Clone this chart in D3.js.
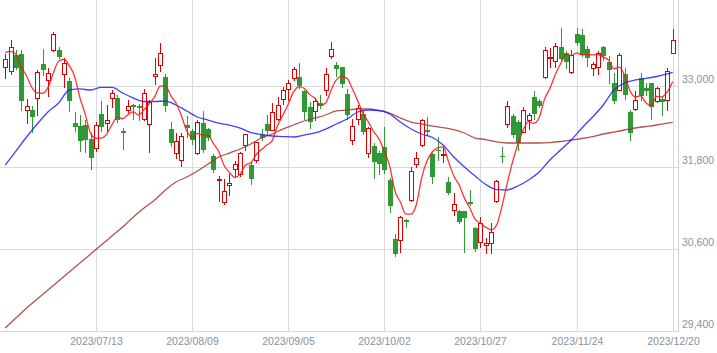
<!DOCTYPE html>
<html>
<head>
<meta charset="utf-8">
<script src="https://cdn.jsdelivr.net/npm/d3@7"></script>
<style>
  html, body { margin: 0; padding: 0; background: #fff; }
  svg { display: block; }
  text { font-family: "Liberation Sans", Arial, sans-serif; }
</style>
</head>
<body>
<svg id="chart" width="717" height="353"></svg>
<script>
// 取引日（月ごと）
const monthDays = [
  ["2023/06", [20,21,22,23,26,27,28,29,30]],
  ["2023/07", [3,4,5,6,7,10,11,12,13,14,18,19,20,21,24,25,26,27,28,31]],
  ["2023/08", [1,2,3,4,7,8,9,10,14,15,16,17,18,21,22,23,24,25,28,29,30,31]],
  ["2023/09", [1,4,5,6,7,8,11,12,13,14,15,19,20,21,22,25,26,27,28,29]],
  ["2023/10", [2,3,4,5,6,10,11,12,13,16,17,18,19,20,23,24,25,26,27,30,31]],
  ["2023/11", [1,2,6,7,8,9,10,13,14,15,16,17,20,21,22,24,27,28,29,30]],
  ["2023/12", [1,4,5,6,7,8,11,12,13,14,15,18,19,20]]
];

const open = [
  33272,33218,33444,33470,32650,32640,32813,33317,33080,33524,
  33524,33169,33070,32447,32403,32428,32221,32088,32591,32452,
  32813,32813,32339,32650,32710,32700,32517,32443,33144,33307,
  33133,32369,32007,31910,32428,32339,32013,32458,32369,31963,
  31610,31296,31540,31776,31702,32132,31840,31910,32280,32433,
  32354,32511,32799,32947,33119,33124,32921,32689,32630,32748,
  32936,33430,33311,33272,32877,32196,32511,32591,32013,32121,
  32018,32107,31610,30755,30730,31030,31320,31850,32130,32345,
  31995,32060,31990,31585,31170,31165,31160,31300,30915,30710,
  30660,30685,31310,31975,32440,32555,32470,32325,32495,32830,
  32775,33124,33406,33356,33569,33480,33199,33766,33751,33539,
  33258,33281,33563,33341,33044,32936,33173,32615,32665,33110,
  32970,33035,32773,32810,32788,33480
];
const high = [
  33465,33677,33529,33529,32803,32704,33233,33544,33258,33785,
  33563,33406,33110,32615,32566,32492,32299,32467,32773,32714,
  32936,32862,32374,32793,32733,32733,32946,32788,33406,33628,
  33169,32467,32304,32310,32551,32359,32502,32625,32384,31998,
  31677,31628,31702,31889,32022,32295,31874,32170,32369,32566,
  32739,32837,32985,33084,33281,33332,32936,32763,32813,32862,
  33258,33637,33347,33281,32951,32517,32714,32650,32393,32161,
  32037,32393,31650,30830,31085,31040,31810,32030,32510,32535,
  32005,32250,32100,31655,31425,31175,31165,31470,30920,31080,
  30760,30980,31610,32095,32775,32580,32495,32685,32600,32920,
  32805,33563,33554,33628,33853,33504,33529,33840,33825,33580,
  33350,33504,33578,33430,33184,33480,33258,32640,32926,33193,
  33035,33044,32985,32847,33258,33835
];
const low = [
  33110,33169,33247,32640,32450,32319,32576,33158,32847,33510,
  33400,32985,32630,32329,32047,32022,31776,32040,32330,32329,
  32689,32467,32073,32615,32517,32492,32502,32022,33030,33218,
  32636,32121,31944,31825,32244,32150,32003,32033,32200,31740,
  31310,31262,31395,31677,31677,32058,31554,31874,32196,32295,
  32344,32492,32729,32788,33084,32961,32517,32384,32492,32680,
  32862,33406,33144,32976,32517,32147,32443,32295,31948,31652,
  31702,31726,31145,30500,30560,30925,31305,31810,32115,32275,
  31565,31905,31880,31410,31100,30980,30560,31250,30575,30635,
  30545,30545,31295,31875,32400,32245,32055,32315,32360,32505,
  32682,33110,33281,33272,33370,33258,33184,33600,33430,33292,
  33158,33173,33380,33035,32740,32930,32800,32206,32640,32788,
  32860,32517,32760,32566,32650,33480
];
const close = [
  33389,33575,33265,32782,32699,32538,33194,33234,33189,33753,
  33423,33339,32773,32388,32190,32204,31944,32419,32391,32494,
  32896,32491,32304,32701,32683,32668,32891,32759,33172,33477,
  32708,32159,32193,32255,32377,32204,32474,32060,32239,31767,
  31626,31451,31566,31857,32010,32287,31624,32170,32227,32333,
  32619,32711,32939,33037,33241,32991,32607,32468,32776,32707,
  33168,33533,33243,33024,32571,32402,32679,32315,32372,31873,
  31858,31760,31238,30527,31075,30995,31747,31937,32495,32316,
  31659,32040,31998,31431,31259,31000,31062,31270,30602,30992,
  30697,30859,31602,31950,32708,32272,32166,32646,32568,32585,
  32696,33520,33424,33585,33388,33354,33452,33626,33448,33408,
  33321,33487,33432,33231,32776,33446,32858,32308,32792,32844,
  32926,32686,32971,32759,33219,33676
];

// 5日移動平均（毎日）
const ma5 = [
  33490,33505,33461,33276,33142,32972,32896,32889,32971,33182,
  33359,33388,33295,33135,32823,32579,32300,32229,32230,32290,
  32429,32538,32515,32577,32615,32569,32649,32740,32835,32993,
  33001,32855,32742,32558,32338,32238,32301,32274,32271,32149,
  32033,31829,31730,31653,31702,31834,31869,31990,32064,32128,
  32195,32412,32566,32728,32909,32984,32963,32869,32817,32710,
  32745,32930,33085,33135,33108,32955,32784,32598,32468,32328,
  32219,32036,31820,31451,31292,31119,31116,31256,31650,31898,
  32031,32089,32102,31889,31677,31546,31350,31204,31039,30985,
  30925,30884,30950,31220,31563,31878,32140,32348,32472,32447,
  32532,32803,32959,33162,33323,33454,33441,33481,33454,33458,
  33451,33458,33419,33376,33249,33274,33149,32924,32836,32850,
  32746,32711,32844,32837,32912,33062
];
// 25日・75日移動平均（2営業日ごと＋最終日）
const ma25 = [
  31836,32041,32247,32438,32614,32746,32937,32952,32937,32974,
  32974,32893,32819,32768,32768,32775,32717,32629,32541,32496,
  32452,32423,32379,32313,32284,32262,32254,32247,32276,32306,
  32364,32438,32511,32614,32643,32636,32585,32467,32364,32291,
  32240,32129,31953,31807,31674,31550,31476,31469,31528,31616,
  31733,31909,32056,32203,32379,32541,32717,32937,33040,33084,
  33106,33135,33172,33194
];
const ma75 = [
  29443,29590,29737,29869,30001,30133,30265,30397,30529,30661,
  30794,30926,31073,31205,31322,31469,31586,31660,31748,31851,
  31953,32012,32071,32144,32232,32291,32364,32423,32482,32526,
  32570,32629,32643,32658,32658,32636,32599,32526,32467,32438,
  32408,32386,32357,32306,32232,32210,32174,32159,32159,32159,
  32159,32166,32181,32203,32225,32254,32291,32320,32350,32379,
  32401,32423,32452,32463
];

const xTickLabels = ["2023/07/13","2023/08/09","2023/09/05","2023/10/02","2023/10/27","2023/11/24","2023/12/20"];
const yTickValues = [29400, 30600, 31800, 33000];

const dates = monthDays.flatMap(([ym, days]) => days.map(d => `${ym}/${String(d).padStart(2, "0")}`));
const candles = dates.map((d, i) => ({ date: d, o: open[i], h: high[i], l: low[i], c: close[i] }));
const sampleDates = dates.filter((d, i) => i % 2 === 0 || i === dates.length - 1);

const W = 717, H = 353;
const plotRight = 678;
const svg = d3.select("#chart");

const x = d3.scalePoint().domain(dates).range([5.2, 672.7]);
const y = d3.scaleLinear().domain([29400, 33000]).range([331, 85.7]);

const gridColor = "#dadada";

// 横グリッド
svg.append("g").selectAll("line").data(yTickValues).join("line")
  .attr("x1", 0).attr("x2", plotRight)
  .attr("y1", d => Math.round(y(d)) + 0.5).attr("y2", d => Math.round(y(d)) + 0.5)
  .attr("stroke", gridColor).attr("stroke-width", 1);

// 縦グリッド
svg.append("g").selectAll("line").data(xTickLabels).join("line")
  .attr("x1", d => Math.round(x(d)) + 0.5).attr("x2", d => Math.round(x(d)) + 0.5)
  .attr("y1", 0).attr("y2", Math.round(y(29400)))
  .attr("stroke", gridColor).attr("stroke-width", 1);

// 右枠
svg.append("line")
  .attr("x1", plotRight + 0.5).attr("x2", plotRight + 0.5)
  .attr("y1", 0).attr("y2", Math.round(y(29400)) + 1)
  .attr("stroke", "#cfcfcf");

// 軸ラベル
svg.append("g").selectAll("text").data(yTickValues).join("text")
  .attr("x", 682).attr("y", d => Math.round(y(d)) - 3)
  .attr("font-size", "10.5px").attr("fill", "#8a929c")
  .text(d3.format(","));

svg.append("g").selectAll("text").data(xTickLabels).join("text")
  .attr("x", d => Math.round(x(d)) + 0.5).attr("y", 345)
  .attr("text-anchor", "middle")
  .attr("font-size", "10.5px").attr("fill", "#8a929c")
  .text(d => d);

// ローソク足
const upColor = "#e00000", downColor = "#2f9a35";
const gCandles = svg.append("g");
candles.forEach(d => {
  const cx = Math.round(x(d.date));
  const up = d.c >= d.o;
  const col = up ? upColor : downColor;
  const yh = Math.round(y(d.h)), yl = Math.round(y(d.l));
  const yt = Math.round(y(Math.max(d.o, d.c))), yb = Math.round(y(Math.min(d.o, d.c)));
  gCandles.append("line")
    .attr("x1", cx + 0.5).attr("x2", cx + 0.5)
    .attr("y1", yh).attr("y2", yl + 1)
    .attr("stroke", col).attr("stroke-width", 1);
  if (up) {
    gCandles.append("rect")
      .attr("x", cx - 1.5).attr("y", yt + 0.5)
      .attr("width", 4).attr("height", Math.max(yb - yt, 1))
      .attr("fill", "#fff").attr("stroke", col).attr("stroke-width", 1);
  } else {
    gCandles.append("rect")
      .attr("x", cx - 2).attr("y", yt)
      .attr("width", 5).attr("height", Math.max(yb - yt, 1))
      .attr("fill", col);
  }
});

// 移動平均線
function drawLine(ds, vals, color) {
  const line = d3.line()
    .x(d => x(d[0])).y(d => y(d[1]))
    .curve(d3.curveMonotoneX);
  svg.append("path")
    .datum(ds.map((d, i) => [d, vals[i]]))
    .attr("d", line)
    .attr("fill", "none")
    .attr("stroke", color)
    .attr("stroke-width", 1.3)
    .attr("stroke-opacity", 0.85);
}
drawLine(sampleDates, ma75, "#a83232");
drawLine(sampleDates, ma25, "#2020ff");
drawLine(dates, ma5, "#ff1010");
</script>
</body>
</html>
